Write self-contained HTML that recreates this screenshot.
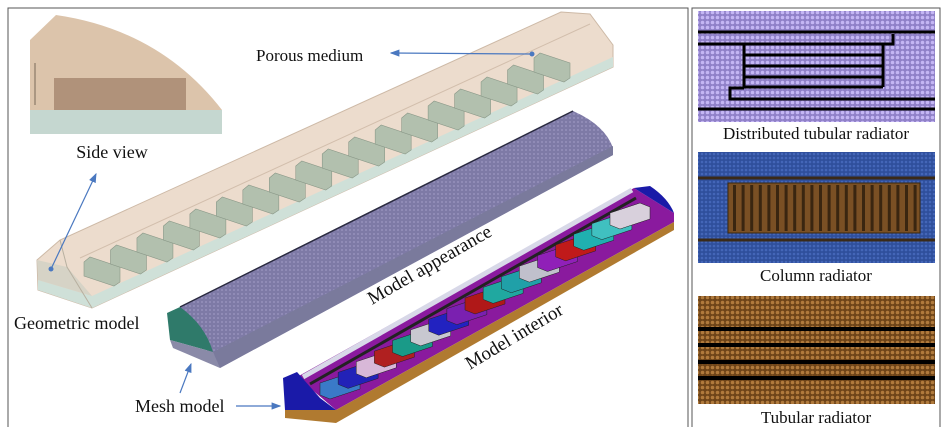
<!DOCTYPE html>
<html><head><meta charset="utf-8"><style>
html,body{margin:0;padding:0;background:#fff;width:941px;height:427px;overflow:hidden}
svg{display:block}
text{font-family:"Liberation Serif",serif;fill:#111}
</style></head><body>
<svg id="s" width="941" height="427" viewBox="0 0 941 427">
<defs>
<pattern id="mesh" width="4" height="4" patternUnits="userSpaceOnUse"><rect width="4" height="4" fill="#7e7aa6"/><circle cx="2" cy="2" r="1" fill="#9690bc"/></pattern>
<pattern id="lav" width="5" height="5" patternUnits="userSpaceOnUse"><rect width="5" height="5" fill="#8f80c8"/><circle cx="2.5" cy="2.5" r="1.8" fill="#c4b6f4"/></pattern>
<pattern id="blu" width="4" height="4" patternUnits="userSpaceOnUse"><rect width="4" height="4" fill="#2f4f9c"/><circle cx="2" cy="2" r="1.3" fill="#4466b8"/></pattern>
<pattern id="brn" width="5" height="5" patternUnits="userSpaceOnUse"><rect width="5" height="5" fill="#6e4418"/><circle cx="2.5" cy="2.5" r="1.8" fill="#b07a3c"/></pattern>
<marker id="ah" markerWidth="8" markerHeight="8" refX="7" refY="4" orient="auto"><path d="M0,1 L8,4 L0,7 z" fill="#4a78c0"/></marker>
</defs>
<rect x="8" y="8" width="680" height="422" fill="none" stroke="#555" stroke-width="1"/>
<rect x="692" y="8" width="248" height="422" fill="none" stroke="#555" stroke-width="1"/>

<g>
<path d="M30,40 L56,15 Q160,30 222,110 L30,110 Z" fill="#dcc4ab"/>
<rect x="30" y="110" width="192" height="24" fill="#c5d7d0"/>
<rect x="54" y="78" width="132" height="32" fill="#b0927a"/>
<line x1="35" y1="63" x2="35" y2="105" stroke="#7a6a5a" stroke-width="1"/>
</g>
<text x="112" y="158" font-size="18" text-anchor="middle">Side view</text>

<g>
<polygon points="37,260 60,240 561,12 590,14 613,45 613,67 92,308 38,290" fill="#ecdccd" stroke="#cdb9a6" stroke-width="1"/>
<polygon points="38,280 92,296 613,57 613,67 92,308 38,290" fill="#cfe0d8"/>
<polygon points="37,260 67,267 92,296 38,280" fill="#d6d3c6"/>
<polyline points="60,240 67,267 92,308" fill="none" stroke="#b8b0a0"/>
<line x1="80" y1="258" x2="590" y2="24" stroke="#d2beac"/>
<g id="fins"></g>
</g>
<circle cx="51" cy="269" r="2.5" fill="#4a78c0"/>
<line x1="51" y1="269" x2="96" y2="174" stroke="#4a78c0" stroke-width="1.2" marker-end="url(#ah)"/>
<circle cx="532" cy="54" r="2.5" fill="#4a78c0"/>
<line x1="530" y1="54" x2="391" y2="53" stroke="#4a78c0" stroke-width="1.2" marker-end="url(#ah)"/>
<text x="256" y="61" font-size="17">Porous medium</text>
<text x="14" y="329" font-size="18">Geometric model</text>

<g>
<path d="M180,307 L573,111 Q605,125 613,148 L613,155 L220,368 L213,360 Z" fill="url(#mesh)"/>
<polygon points="213,352 613,146 613,155 220,368" fill="#7a7a9c"/>
<line x1="180" y1="307" x2="573" y2="111" stroke="#2a2a40" stroke-width="1.5"/>
<path d="M167,313 L180,307 Q205,325 213,352 L170,340 Z" fill="#2f7a6a"/>
<polygon points="170,340 213,352 220,368 173,348" fill="#8a8aa8"/>
</g>
<line x1="180" y1="393" x2="191" y2="364" stroke="#4a78c0" stroke-width="1.2" marker-end="url(#ah)"/>
<line x1="236" y1="406" x2="280" y2="406" stroke="#4a78c0" stroke-width="1.2" marker-end="url(#ah)"/>
<text x="135" y="412" font-size="18">Mesh model</text>
<text transform="translate(372,305) rotate(-30)" font-size="19">Model appearance</text>

<g>
<polygon points="297,377 634,188 674,213 674,222 336,410" fill="#8a1a9e"/>
<polygon points="285,410 336,410 674,222 674,230 336,423 285,418" fill="#b07a30"/>
<polygon points="283,378 297,372 320,398 336,410 285,410" fill="#1a1aa8"/>
<path d="M634,188 L650,186 Q668,198 674,213 Z" fill="#1a1aa8"/>
<line x1="303" y1="377" x2="632" y2="190" stroke="#d8d8e8" stroke-width="5"/>
<line x1="310" y1="384" x2="636" y2="198" stroke="#222" stroke-width="3"/>
<g id="boxes"></g>
</g>
<text transform="translate(470,370) rotate(-31)" font-size="19">Model interior</text>

<g>
<rect x="698" y="11" width="237" height="111" fill="url(#lav)"/>
<g stroke="#000" stroke-width="3" fill="none">
<line x1="698" y1="32" x2="935" y2="32"/><line x1="698" y1="109" x2="935" y2="109"/>
<polyline points="698,44 893,44 893,34"/>
<polyline points="744,45 744,87 883,87"/>
<line x1="744" y1="55" x2="883" y2="55"/><line x1="744" y1="66" x2="883" y2="66"/><line x1="744" y1="77" x2="883" y2="77"/>
<polyline points="883,44 883,87"/>
<polyline points="935,99 730,99 730,88 744,88"/>
</g></g>
<text x="816" y="139" font-size="17" text-anchor="middle">Distributed tubular radiator</text>

<g>
<rect x="698" y="152" width="237" height="111" fill="url(#blu)"/>
<line x1="698" y1="178" x2="935" y2="178" stroke="#3a2a18" stroke-width="3"/>
<line x1="698" y1="240" x2="935" y2="240" stroke="#3a2a18" stroke-width="3"/>
<rect x="728" y="183" width="192" height="50" fill="#7a5024" stroke="#3a2810"/>
<g id="cols"></g>
</g>
<text x="816" y="281" font-size="17" text-anchor="middle">Column radiator</text>

<g>
<rect x="698" y="296" width="237" height="108" fill="url(#brn)"/>
<g stroke="#000" stroke-width="4">
<line x1="698" y1="329" x2="935" y2="329"/><line x1="698" y1="345" x2="935" y2="345"/>
<line x1="698" y1="362" x2="935" y2="362"/><line x1="698" y1="378" x2="935" y2="378"/>
</g></g>
<text x="816" y="423" font-size="17" text-anchor="middle">Tubular radiator</text>
</svg>
<script>
const NS='http://www.w3.org/2000/svg';
const boxColors=['#3a7ac8','#2222b8','#d8b8d8','#b02020','#1a9a88','#c8c8d0','#2222c0','#7a20b0','#b01818','#20a8a0','#20a0a8','#c0c0cc','#9020b8','#c01a1a','#20b0b0','#40c0c0','#d8d0dc'];
const finCount=[18];
const colCount=[22];
const fins=document.getElementById('fins');
for(let i=0;i<finCount[0];i++){const t=i/(finCount[0]-1);const x=84+t*450,y=262-t*204;
const p=document.createElementNS(NS,'polygon');
p.setAttribute('points',`${x},${y} ${x+6},${y-5} ${x+36},${y+5} ${x+36},${y+20} ${x+30},${y+24} ${x},${y+14}`);
p.setAttribute('fill','#b2c0ae');p.setAttribute('stroke','#8a9888');p.setAttribute('stroke-width','0.6');


fins.appendChild(p);}
const boxes=document.getElementById('boxes');
for(let i=0;i<boxColors.length;i++){const t=i/(boxColors.length-1);const x=320+t*290,y=383-t*170;
const p=document.createElementNS(NS,'polygon');
p.setAttribute('points',`${x},${y} ${x+30},${y-10} ${x+40},${y-6} ${x+40},${y+6} ${x+10},${y+16} ${x},${y+12}`);
p.setAttribute('fill',boxColors[i]);p.setAttribute('stroke','#222');p.setAttribute('stroke-width','0.5');


boxes.appendChild(p);}
const cols=document.getElementById('cols');
for(let i=0;i<colCount[0];i++){const x=733+i*8.6;
const r=document.createElementNS(NS,'rect');
r.setAttribute('x',x);r.setAttribute('y',185);r.setAttribute('width',3);r.setAttribute('height',46);r.setAttribute('fill','#3a2610');


cols.appendChild(r);}
</script>
</body></html>
